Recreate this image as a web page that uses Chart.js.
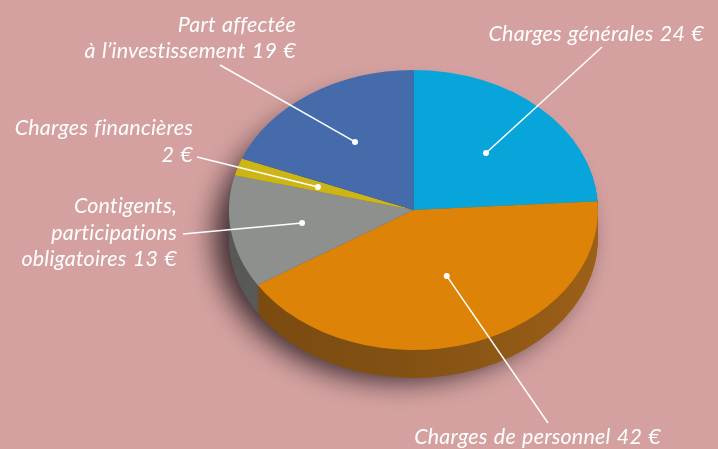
<!DOCTYPE html>
<html>
<head>
<meta charset="utf-8">
<style>
  html, body { margin: 0; padding: 0; background: #d4a1a0; overflow: hidden; }
  canvas { display: block; }
</style>
<script src="https://cdn.jsdelivr.net/npm/chart.js@4"></script>
</head>
<body>
<canvas id="budget-chart" width="718" height="449"></canvas>
<script>
var categories = ['Charges générales', 'Charges de personnel', 'Contigents, participations obligatoires', 'Charges financières', 'Part affectée à l’investissement'];
var values = [24, 42, 13, 2, 19];
var sliceColors = ['#08a5da', '#dd8308', '#8e908e', '#cdb516', '#456bab'];
var sideColors = ['#06759a', null, '#595957', '#8a7a10', '#2f4a78'];

// text blocks, anchored by hand like the printed page
var labelLines = [
    ['Charges générales 24 €'],
    ['Charges de personnel 42 €'],
    ['Contigents,', 'participations', 'obligatoires 13 €'],
    ['Charges financières', '2 €'],
    ['Part affectée', 'à l’investissement 19 €']
];
var labelRight = [704, 661, 177, 193, 296];
var labelBaseline = [41, 444, 213, 135, 31.5];
var lineHeight = 26.5;
var leaderStart = [[602, 47], [548, 423], [183, 234], [197, 157], [220, 65]];
// leader dots, as fractions of the disc radii from its centre
var dotOffset = [[0.393, -0.407], [0.18, 0.471], [-0.604, 0.093], [-0.518, -0.164], [-0.317, -0.486]];

var centerY = 210;
var squash = 140 / 184.5;
var depth = 28;

var pie3d = {
    id: 'pie3d',
    beforeDatasetsDraw: function (chart) {
        var ctx = chart.ctx;
        var arcs = chart.getDatasetMeta(0).data;
        var a = arcs[0];
        var rx = a.outerRadius, ry = rx * squash;

        // soft shadow under the disc, two passes to get it dark enough
        ctx.save();
        ctx.shadowColor = 'rgba(50,35,40,0.75)';
        ctx.shadowBlur = 30;
        ctx.shadowOffsetX = -14;
        ctx.shadowOffsetY = 9;
        ctx.fillStyle = '#6d4a30';
        for (var p = 0; p < 2; p++) {
            ctx.beginPath();
            ctx.ellipse(a.x, centerY + depth / 2 + 4, rx - 5, ry - 1, 0, 0, Math.PI * 2);
            ctx.fill();
        }
        ctx.restore();

        // side wall
        var orange = ctx.createLinearGradient(a.x - rx, 0, a.x + rx, 0);
        orange.addColorStop(0, '#7b4a10');
        orange.addColorStop(0.45, '#815012');
        orange.addColorStop(1, '#9c6018');
        for (var d = depth; d > 0; d--) {
            arcs.forEach(function (arc, i) {
                ctx.fillStyle = sideColors[i] || orange;
                ctx.beginPath();
                ctx.moveTo(arc.x, centerY + d);
                ctx.ellipse(arc.x, centerY + d, rx, ry, 0, arc.startAngle, arc.endAngle);
                ctx.closePath();
                ctx.fill();
            });
        }

        ctx.save();
        ctx.translate(0, centerY);
        ctx.scale(1, squash);
        ctx.translate(0, -a.y);
    },
    afterDatasetsDraw: function (chart) {
        var ctx = chart.ctx;
        ctx.restore();

        var arcs = chart.getDatasetMeta(0).data;
        ctx.save();
        ctx.strokeStyle = '#fff';
        ctx.fillStyle = '#fff';
        ctx.lineWidth = 1.5;
        arcs.forEach(function (arc, i) {
            var px = arc.x + dotOffset[i][0] * arc.outerRadius;
            var py = centerY + dotOffset[i][1] * arc.outerRadius * squash;
            ctx.beginPath();
            ctx.moveTo(leaderStart[i][0], leaderStart[i][1]);
            ctx.lineTo(px, py);
            ctx.stroke();
            ctx.beginPath();
            ctx.arc(px, py, 3, 0, Math.PI * 2);
            ctx.fill();
        });

        ctx.font = 'italic 21.5px Lato';
        ctx.letterSpacing = '0.2px';
        ctx.wordSpacing = '1px';
        ctx.textAlign = 'right';
        ctx.textBaseline = 'alphabetic';
        labelLines.forEach(function (lines, i) {
            lines.forEach(function (text, j) {
                ctx.fillText(text, labelRight[i], labelBaseline[i] + j * lineHeight);
            });
        });
        ctx.restore();
    }
};

var budgetCtx = document.getElementById('budget-chart');

var budgetChart = new Chart(budgetCtx, {
    type: 'pie',
    data: {
        labels: categories,
        datasets: [{
            data: values,
            backgroundColor: sliceColors,
            borderWidth: 0
        }]
    },
    options: {
        responsive: false,
        animation: false,
        radius: 184.5,
        layout: { padding: { left: 109 } },
        plugins: {
            legend: { display: false },
            tooltip: { enabled: false }
        }
    },
    plugins: [pie3d]
});
</script>
</body>
</html>
